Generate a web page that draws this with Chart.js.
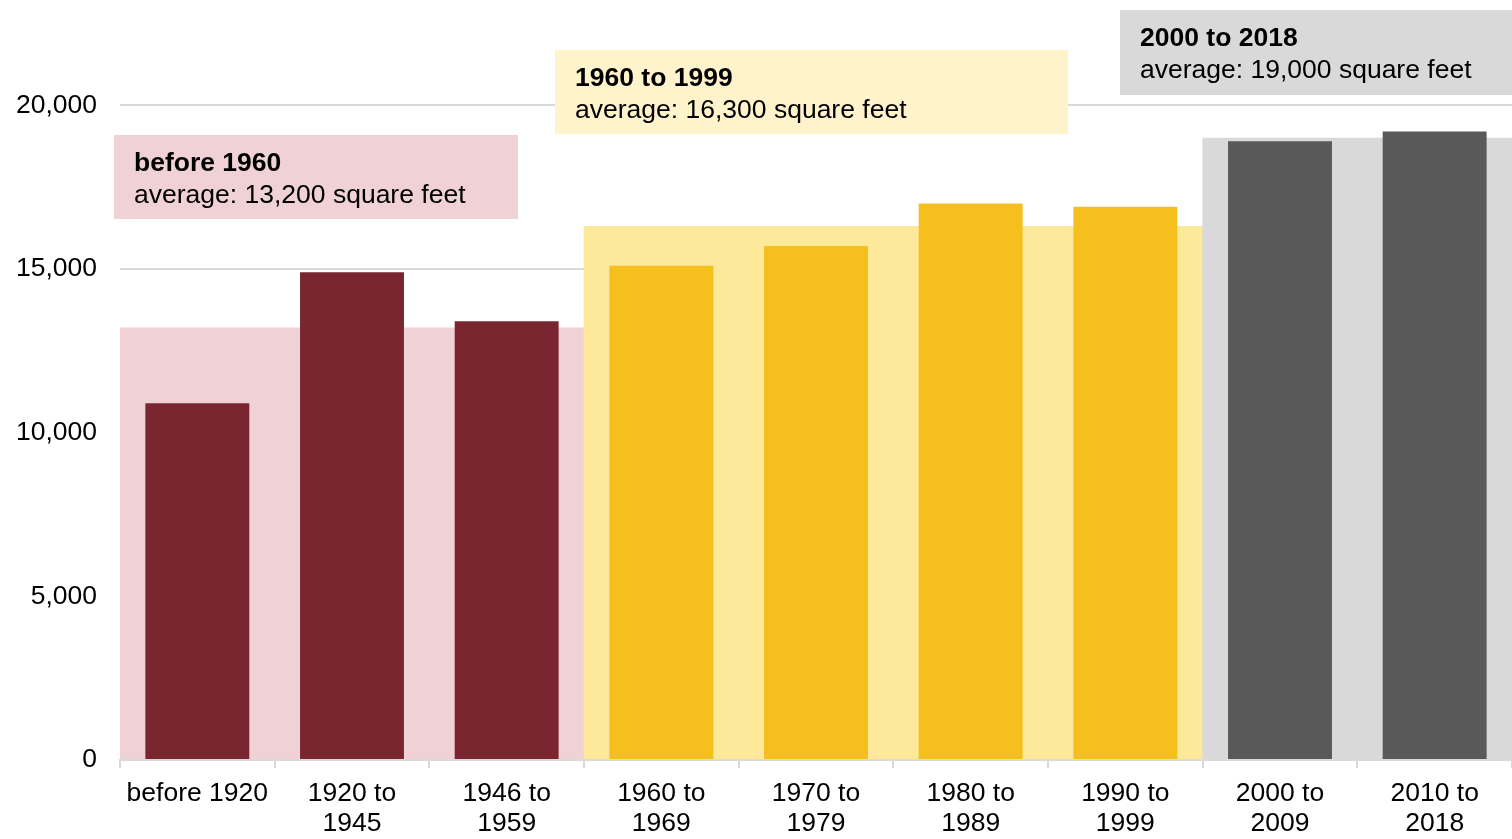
<!DOCTYPE html>
<html><head><meta charset="utf-8">
<script src="https://cdn.jsdelivr.net/npm/chart.js@4.4.1/dist/chart.umd.min.js"></script>
<style>html,body{margin:0;padding:0;background:#fff;overflow:hidden}</style>
</head><body>
<canvas id="c" width="1512" height="839" style="display:block;width:1512px;height:839px"></canvas>
<script>
// ---- data ----
const categories = ['before 1920', ['1920 to', '1945'], ['1946 to', '1959'], ['1960 to', '1969'], ['1970 to', '1979'], ['1980 to', '1989'], ['1990 to', '1999'], ['2000 to', '2009'], ['2010 to', '2018']];
const medianSize = [10900, 14900, 13400, 15100, 15700, 17000, 16900, 18900, 19200];
const groupOfCategory = [0, 0, 0, 1, 1, 1, 1, 2, 2];
const groupTitles = ['before 1960', '1960 to 1999', '2000 to 2018'];
const groupAverages = [13200, 16300, 19000];
const yTickValues = [0, 5000, 10000, 15000, 20000];

// ---- styles ----
const barColors = ['#7A2631', '#F5BF1E', '#595959'];
const bandColors = ['#F0D1D6', '#FEE89A', '#D9D9D9'];
const boxColors = ['#F0D1D6', '#FFF3CC', '#D9D9D9'];
const FONT = "'Liberation Sans', Arial, sans-serif";
const FS = 26.5;
// annotation box layout (pixels)
const boxLayout = [
  {x: 114, y: 135, w: 404, h: 84},
  {x: 555, y: 50, w: 513, h: 84},
  {x: 1120, y: 10, w: 392, h: 85}
];

const bandValues = groupOfCategory.map(g => groupAverages[g]);

const boxPlugin = {
  id: 'groupBoxes',
  afterDraw(chart) {
    const ctx = chart.ctx;
    ctx.save();
    groupTitles.forEach((t, i) => {
      const b = boxLayout[i];
      ctx.fillStyle = boxColors[i];
      ctx.fillRect(b.x, b.y, b.w, b.h);
      ctx.fillStyle = '#000';
      ctx.textBaseline = 'middle';
      ctx.textAlign = 'left';
      ctx.font = 'bold ' + FS + 'px ' + FONT;
      ctx.fillText(t, b.x + 20, b.y + 29);
      ctx.font = FS + 'px ' + FONT;
      ctx.fillText('average: ' + groupAverages[i].toLocaleString('en-US') + ' square feet', b.x + 20, b.y + 61);
    });
    ctx.restore();
  }
};

new Chart(document.getElementById('c'), {
  type: 'bar',
  data: {
    labels: categories,
    datasets: [
      {
        label: 'Median size',
        data: medianSize,
        backgroundColor: groupOfCategory.map(g => barColors[g]),
        barPercentage: 0.672,
        categoryPercentage: 1,
        grouped: false,
        order: 1
      },
      {
        label: 'Group average',
        data: bandValues,
        backgroundColor: groupOfCategory.map(g => bandColors[g]),
        barPercentage: 1,
        categoryPercentage: 1,
        grouped: false,
        order: 2
      }
    ]
  },
  options: {
    responsive: false,
    animation: false,
    devicePixelRatio: 1,
    layout: {padding: {top: 7, right: 0, left: 0, bottom: 0}},
    plugins: {legend: {display: false}, tooltip: {enabled: false}, title: {display: false}},
    scales: {
      x: {
        grid: {display: true, drawOnChartArea: false, drawTicks: true, tickLength: 8, color: '#D9D9D9', lineWidth: 2, offset: true},
        border: {display: true, color: '#D9D9D9', width: 2},
        ticks: {color: '#000', font: {family: FONT, size: FS, lineHeight: 1.15}, padding: 10, maxRotation: 0, autoSkip: false},
        afterFit(scale) { scale.height = 79; scale.paddingLeft = 0; scale.paddingRight = 0; }
      },
      y: {
        min: 0,
        max: 23000,
        grid: {color: '#D9D9D9', lineWidth: 2, drawTicks: false},
        border: {display: false},
        ticks: {
          color: '#000',
          font: {family: FONT, size: FS},
          padding: 23,
          callback: v => v.toLocaleString('en-US')
        },
        afterBuildTicks(scale) { scale.ticks = yTickValues.map(v => ({value: v})); },
        afterFit(scale) { scale.width = 120; scale.paddingTop = 0; scale.paddingBottom = 0; }
      }
    }
  },
  plugins: [boxPlugin]
});
</script>
</body></html>
